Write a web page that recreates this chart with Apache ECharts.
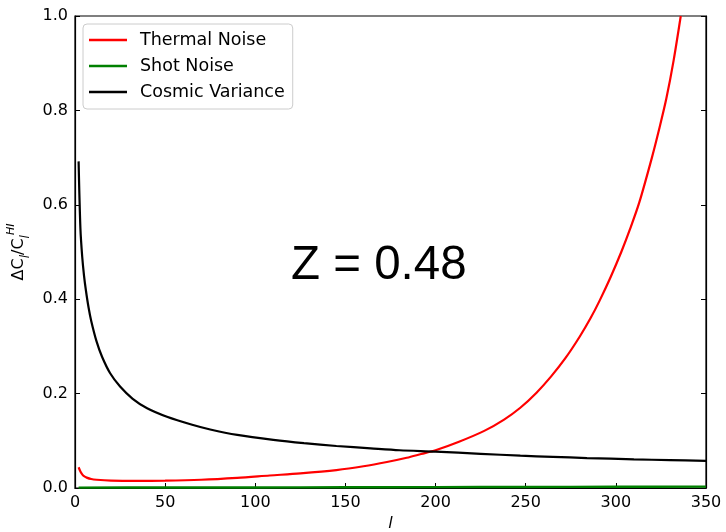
<!DOCTYPE html>
<html>
<head>
<meta charset="utf-8">
<script src="https://cdn.jsdelivr.net/npm/echarts@6/dist/echarts.min.js"></script>
<style>html,body{margin:0;padding:0;background:#fff}#c{width:726px;height:532px}</style>
</head>
<body>
<div id="c"></div>
<script>
// multipole l and relative error values
const thermalL = [2, 3, 4, 5, 6.5, 9, 12, 20, 34, 50, 70, 90, 108, 125, 145, 160, 173, 184, 192, 200, 213, 227, 238, 247, 256, 264, 272, 280, 286, 291, 297, 303, 308, 313, 320, 324, 328, 332, 336];
const thermalV = [0.044, 0.035, 0.029, 0.025, 0.022, 0.019, 0.0175, 0.0158, 0.0152, 0.0156, 0.0175, 0.0215, 0.0265, 0.031, 0.038, 0.046, 0.055, 0.064, 0.072, 0.080, 0.098, 0.121, 0.145, 0.170, 0.202, 0.236, 0.275, 0.321, 0.360, 0.397, 0.446, 0.500, 0.550, 0.605, 0.700, 0.760, 0.825, 0.905, 1.0];
const shotL = [2, 50, 100, 150, 200, 250, 300, 350];
const shotV = [0.0008, 0.0010, 0.0012, 0.0015, 0.0018, 0.0022, 0.0026, 0.0030];
const cosmicL = [2, 3, 4, 5, 6, 7.5, 9, 12, 15, 19.5, 25, 32, 40, 51, 65, 75, 90, 110, 127, 145, 164, 180, 200, 225, 247, 265, 284, 310, 330, 350];
const cosmicV = [0.692, 0.55, 0.49, 0.45, 0.42, 0.383, 0.354, 0.31, 0.278, 0.243, 0.215, 0.189, 0.169, 0.151, 0.134, 0.124, 0.1125, 0.102, 0.095, 0.089, 0.084, 0.080, 0.077, 0.0725, 0.0685, 0.066, 0.0635, 0.0608, 0.059, 0.0575];
const seriesNames = ['Thermal Noise', 'Shot Noise', 'Cosmic Variance'];
const annotation = 'Z = 0.48';

const pair = (xs, ys) => xs.map((x, i) => [x, ys[i]]);
const FONT = 'DejaVu Sans';

const chart = echarts.init(document.getElementById('c'), null, {renderer: 'canvas'});
chart.setOption({
  animation: false,
  backgroundColor: '#fff',
  grid: {left: 75, right: 20, top: 16, bottom: 44, show: true, borderColor: '#000', borderWidth: 1.2, containLabel: false, outerBoundsMode: 'none'},
  xAxis: {
    type: 'value', min: 0, max: 350, interval: 50,
    name: 'l', nameLocation: 'middle', nameGap: 26,
    nameTextStyle: {fontFamily: FONT, fontSize: 16, fontStyle: 'italic', color: '#000'},
    axisLine: {show: true, lineStyle: {color: '#000', width: 1.2}},
    axisTick: {show: true, inside: true, length: 5, lineStyle: {color: '#000', width: 1}},
    axisLabel: {fontFamily: FONT, fontSize: 16, color: '#000', margin: 7},
    splitLine: {show: false}
  },
  yAxis: [{
    type: 'value', min: 0, max: 1, interval: 0.2,
    name: '{a|ΔC}{s|l}{a|/C}{s|l}{p|HI}', nameLocation: 'middle', nameGap: 34, nameRotate: 90,
    nameTextStyle: {
      color: '#000',
      rich: {
        a: {fontFamily: FONT, fontSize: 16, color: '#000', lineHeight: 26, verticalAlign: 'middle'},
        s: {fontFamily: FONT, fontSize: 12, fontStyle: 'italic', color: '#000', lineHeight: 26, verticalAlign: 'bottom'},
        p: {fontFamily: FONT, fontSize: 11, fontStyle: 'italic', color: '#000', lineHeight: 26, verticalAlign: 'top'}
      }
    },
    axisLine: {show: true, lineStyle: {color: '#000', width: 1.2}},
    axisTick: {show: true, inside: true, length: 5, lineStyle: {color: '#000', width: 1}},
    axisLabel: {fontFamily: FONT, fontSize: 16, color: '#000', margin: 7, formatter: v => v.toFixed(1)},
    splitLine: {show: false}
  }, {
    type: 'value', min: 0, max: 1, interval: 0.2, position: 'right',
    axisLine: {show: true, lineStyle: {color: '#000', width: 1.2}},
    axisTick: {show: true, inside: true, length: 5, lineStyle: {color: '#000', width: 1}},
    axisLabel: {show: false},
    splitLine: {show: false}
  }],
  legend: {
    orient: 'vertical', left: 83, top: 24,
    padding: [7, 8, 8, 6],
    backgroundColor: '#fff', borderColor: '#cccccc', borderWidth: 1, borderRadius: 4,
    icon: 'rect', itemWidth: 38, itemHeight: 2.4, itemGap: 8,
    textStyle: {fontFamily: FONT, fontSize: 17.5, color: '#000', padding: [0, 0, 0, 8]},
    data: seriesNames
  },
  graphic: [{
    type: 'text', x: 291, y: 266,
    style: {text: annotation, font: '47.5px "Liberation Sans"', fill: '#000', textVerticalAlign: 'middle'}
  }],
  series: [
    {name: seriesNames[0], type: 'line', data: pair(thermalL, thermalV), showSymbol: false, symbol: 'none', smooth: 0.3, clip: true, lineStyle: {color: '#ff0000', width: 2.2}, itemStyle: {color: '#ff0000'}},
    {name: seriesNames[1], type: 'line', data: pair(shotL, shotV), showSymbol: false, symbol: 'none', smooth: 0.3, clip: true, lineStyle: {color: '#008000', width: 2.4}, itemStyle: {color: '#008000'}},
    {name: seriesNames[2], type: 'line', data: pair(cosmicL, cosmicV), showSymbol: false, symbol: 'none', smooth: 0.3, clip: true, lineStyle: {color: '#000000', width: 2.2}, itemStyle: {color: '#000000'}}
  ]
});
</script>
</body>
</html>
